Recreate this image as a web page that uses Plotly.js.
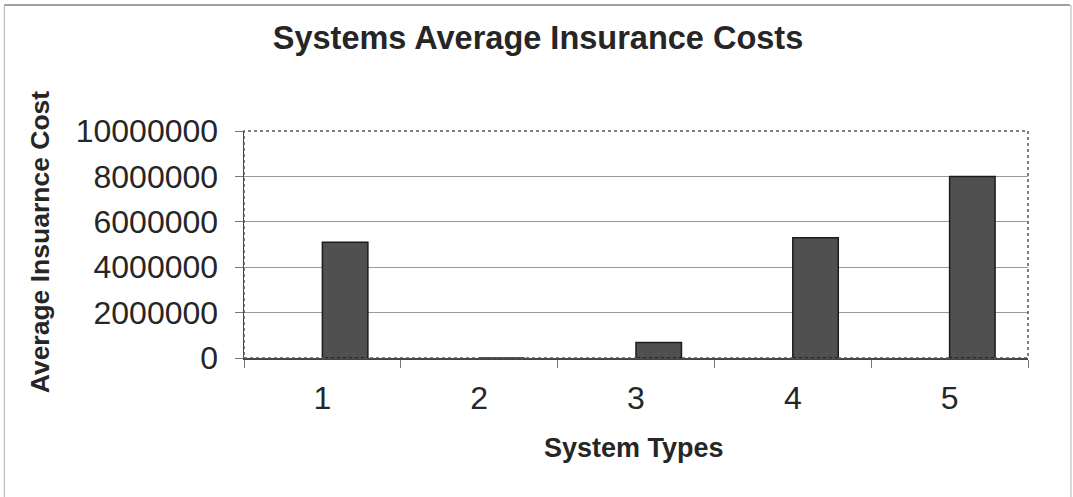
<!DOCTYPE html>
<html>
<head>
<meta charset="utf-8">
<script src="https://cdn.plot.ly/plotly-3.0.1.min.js"></script>
<style>
html,body{margin:0;padding:0;background:#fff;}
#chart{width:1073px;height:497px;}
</style>
</head>
<body>
<div id="chart"></div>
<script>
const categories = ['1', '2', '3', '4', '5'];
const avgCost = [5100000, 0, 680000, 5300000, 8000000];
const yTickVals = [0, 2000000, 4000000, 6000000, 8000000, 10000000];
const yTickText = ['0', '2000000', '4000000', '6000000', '8000000', '10000000'];

const trace = {
  type: 'bar',
  x: categories,
  y: avgCost,
  width: 0.29,
  offset: 0,
  marker: { color: '#505050', line: { color: '#1c1c1c', width: 1.5 } },
  hoverinfo: 'x+y'
};

const layout = {
  width: 1073, height: 497,
  margin: { l: 244, r: 45, t: 131, b: 139 },
  paper_bgcolor: '#ffffff',
  plot_bgcolor: '#ffffff',
  showlegend: false,
  font: { family: 'Liberation Sans, Arial, sans-serif', color: '#262626' },
  title: {
    text: '<b>Systems Average Insurance Costs</b>',
    font: { size: 32.5, family: 'Liberation Sans, Arial, sans-serif', color: '#262626' },
    x: 538 / 1073, xref: 'container', xanchor: 'center',
    y: 1 - 38 / 497, yref: 'container', yanchor: 'middle'
  },
  xaxis: {
    type: 'category',
    tickson: 'boundaries',
    ticks: 'outside', ticklen: 8, tickcolor: '#777', tickwidth: 1,
    tickfont: { size: 32, color: '#262626' },
    showgrid: false,
    showline: true, linecolor: '#444', linewidth: 1.5, mirror: false,
    zeroline: false,
    ticklabelstandoff: 11,
    fixedrange: true
  },
  yaxis: {
    range: [0, 10000000],
    tickvals: yTickVals,
    ticktext: yTickText,
    ticks: 'outside', ticklen: 8, tickcolor: '#777', tickwidth: 1,
    tickfont: { size: 32, color: '#262626' },
    showgrid: true, gridcolor: '#9a9a9a', gridwidth: 1,
    showline: true, linecolor: '#444', linewidth: 1.5, mirror: false,
    zeroline: false,
    ticklabelstandoff: 10,
    fixedrange: true
  },
  annotations: [
    {
      text: '<b>Average Insuarnce Cost</b>',
      xref: 'paper', yref: 'paper', x: (40 - 244) / 785, y: (358 - 242) / 227,
      xanchor: 'center', yanchor: 'middle',
      textangle: -90, showarrow: false,
      font: { size: 26.5, color: '#262626' }
    },
    {
      text: '<b>System Types</b>',
      xref: 'paper', yref: 'paper', x: (634 - 244) / 785, y: -(448 - 358) / 227,
      xanchor: 'center', yanchor: 'middle',
      showarrow: false,
      font: { size: 27, color: '#262626' }
    }
  ],
  shapes: [
    { type: 'rect', xref: 'paper', yref: 'paper', x0: 0, x1: 1, y0: 0, y1: 1,
      line: { color: '#555', width: 1.5, dash: 'dot' } },
    { type: 'line', xref: 'paper', yref: 'paper', x0: -240/785, x1: 1 + 42/785, y0: 1 + 126/227, y1: 1 + 126/227,
      line: { color: '#a0a0a0', width: 2 } },
    { type: 'line', xref: 'paper', yref: 'paper', x0: -240/785, x1: -240/785, y0: 1 + 126/227, y1: -139/227,
      line: { color: '#b0b0b0', width: 1 } },
    { type: 'line', xref: 'paper', yref: 'paper', x0: 1 + 43/785, x1: 1 + 43/785, y0: 1 + 126/227, y1: -139/227,
      line: { color: '#b0b0b0', width: 1 } }
  ]
};

Plotly.newPlot('chart', [trace], layout, { displayModeBar: false, staticPlot: true });
</script>
</body>
</html>
